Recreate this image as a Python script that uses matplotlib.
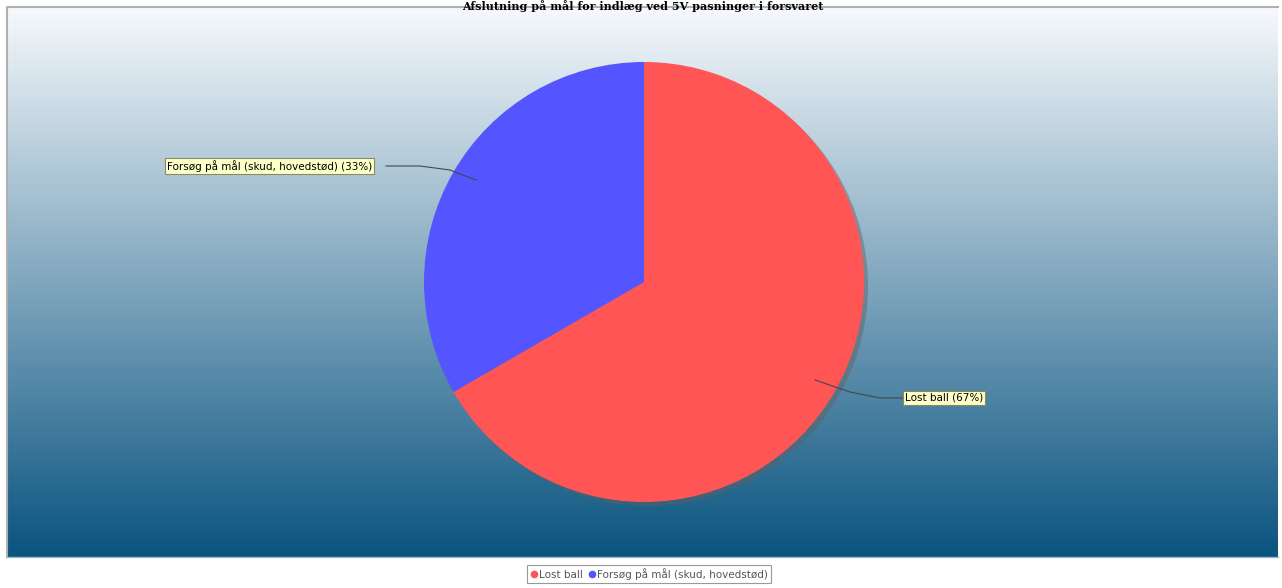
import numpy as np
import matplotlib
matplotlib.use("Agg")
import matplotlib.pyplot as plt
from matplotlib.colors import LinearSegmentedColormap
from matplotlib.patches import Circle
from matplotlib.lines import Line2D

# data
labels = ["Lost ball", "Forsøg på mål (skud, hovedstød)"]
values = [2, 1]
colors = ["#ff5555", "#5555ff"]
title = "Afslutning på mål for indlæg ved 5V pasninger i forsvaret"

W, H = 1282, 588
fig = plt.figure(figsize=(W / 100, H / 100), dpi=100)
fig.patch.set_facecolor("white")

# one axes over the whole figure, 1 unit = 1 pixel, y measured from bottom
ax = fig.add_axes([0, 0, 1, 1])
ax.set_xlim(0, W)
ax.set_ylim(0, H)
ax.axis("off")

# plot area with vertical gradient
px0, px1 = 7, 1278
py_top, py_bot = 7, 557
grad = LinearSegmentedColormap.from_list("bg", ["#f6f9fc", "#0a5480"])
g = np.linspace(0, 1, 256).reshape(-1, 1)
ax.imshow(g, cmap=grad, aspect="auto", extent=[px0, px1, H - py_bot, H - py_top],
          origin="upper", zorder=0)
ax.plot([px0, px0, px1], [H - py_bot, H - py_top, H - py_top], color="#b0b0b0", lw=1.5, zorder=1)
ax.plot([px0, px1], [H - py_bot, H - py_bot], color="#9ab8c8", lw=1.0, zorder=1)

# pie
cx, cy, r = 644, H - 282, 220
ax.add_patch(Circle((cx + 4, cy - 4), r, color="#606060", alpha=0.45, zorder=2, lw=0))
ax.pie(values, colors=colors, startangle=90, counterclock=False, center=(cx, cy),
       radius=r, frame=True, wedgeprops=dict(linewidth=0, zorder=3))
ax.set_xlim(0, W)
ax.set_ylim(0, H)
ax.set_aspect("auto")
ax.axis("off")

# labels with leader lines
total = sum(values)
pct = [round(v / total * 100) for v in values]
box = dict(boxstyle="square,pad=0.15", fc="#ffffc8", ec="#8a8a60", lw=0.8)
ax.text(905, H - 398, f"{labels[0]} ({pct[0]}%)", fontsize=7.5, family="DejaVu Sans",
        ha="left", va="center", bbox=box, zorder=6)
ax.text(167, H - 166, f"{labels[1]} ({pct[1]}%)", fontsize=7.5, family="DejaVu Sans",
        ha="left", va="center", bbox=box, zorder=6)
ax.plot([815, 850, 880, 904], [H - 380, H - 392, H - 398, H - 398], color="#404850", lw=0.8, zorder=5)
ax.plot([386, 420, 450, 476], [H - 166, H - 166, H - 170, H - 180], color="#404850", lw=0.8, zorder=5)

# title at the very top
ax.text(643, H, title, fontsize=8, fontweight="bold", family="DejaVu Serif",
        ha="center", va="top", zorder=6)

# legend
handles = [Line2D([], [], marker="o", ls="", color=c, markersize=4.5) for c in colors]
leg = fig.legend(handles, labels, loc="center", bbox_to_anchor=(649 / W, 1 - 574 / H),
                 ncol=2, fontsize=7.5, frameon=True, fancybox=False, handletextpad=0.1,
                 columnspacing=0.5, borderpad=0.25, handlelength=0.8)
leg.get_frame().set_edgecolor("#808080")
leg.get_frame().set_linewidth(0.8)
for t in leg.get_texts():
    t.set_color("#555555")

fig.savefig("out.png", dpi=100)
